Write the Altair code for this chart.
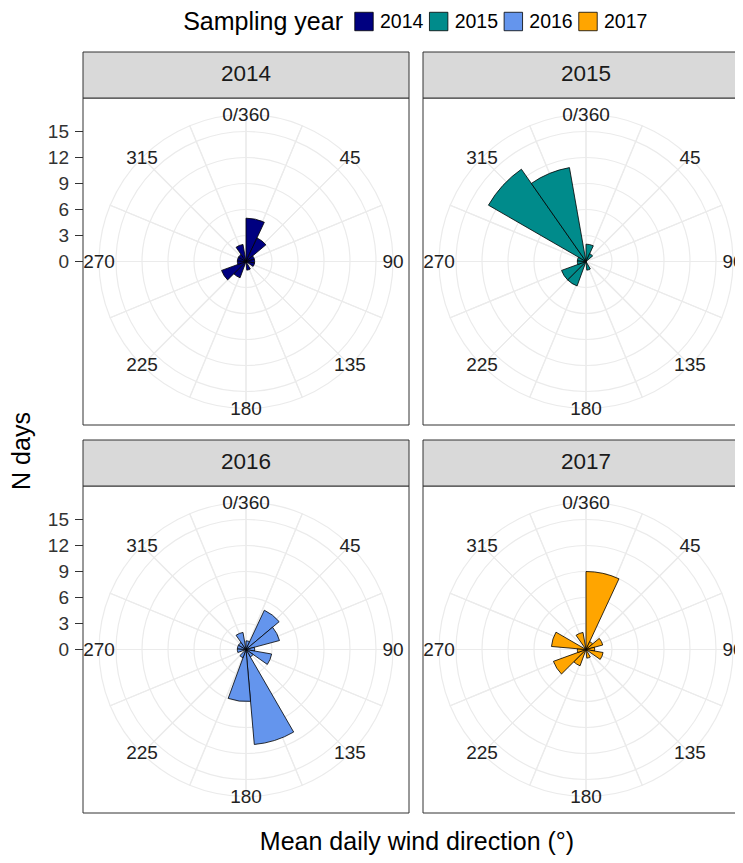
import math
import altair as alt
import pandas as pd

# ---------------- data ----------------
years = [2014, 2015, 2016, 2017]
year_colors = ["#000080", "#008B8B", "#6495ED", "#FFA500"]
panel_col = [0, 1, 0, 1]
panel_row = [0, 0, 1, 1]

bin_starts = [0, 25, 50, 75, 100, 125, 150, 175, 200, 225, 250, 275, 300, 325]
bin_width = 25
counts_2014 = [5, 3, 1, 1, 1, 0, 1, 0, 2, 3, 1, 1, 1, 2]
counts_2015 = [2, 1, 0, 0, 0, 0, 1, 0, 3, 3, 1, 1, 13, 11]
counts_2016 = [1, 5, 4, 1, 3, 1, 11, 6, 1, 0, 1, 1, 1, 2]
counts_2017 = [9, 1, 2, 1, 2, 0, 1, 0, 2, 4, 1, 4, 0, 2]
counts = {2014: counts_2014, 2015: counts_2015, 2016: counts_2016, 2017: counts_2017}

angle_breaks = [0, 45, 90, 135, 180, 225, 270, 315]
angle_labels = ["0/360", "45", "90", "135", "180", "225", "270", "315"]
grid_angles = [i * 22.5 for i in range(16)]
r_breaks = [0, 3, 6, 9, 12, 15]

x_title = "Mean daily wind direction (°)"
y_title = "N days"
legend_title = "Sampling year"

FONT = "Liberation Sans"

# ---------------- tables ----------------
panels = pd.DataFrame({"year": years, "col": panel_col, "row": panel_row})

bars = pd.DataFrame(
    [
        {"year": y, "col": c, "row": r, "start": s, "end": s + bin_width, "n": n}
        for y, c, r in zip(years, panel_col, panel_row)
        for s, n in zip(bin_starts, counts[y])
        if n > 0
    ]
)
sectors = pd.DataFrame(
    [
        {"col": c, "row": r, "a0": a, "a1": a + 22.5}
        for c, r in zip(panel_col, panel_row)
        for a in grid_angles
    ]
)
circles = pd.DataFrame(
    [{"col": c, "row": r, "r": v} for c, r in zip(panel_col, panel_row) for v in r_breaks[1:]]
)
labels = pd.DataFrame(
    [
        {"col": c, "row": r, "angle": a, "label": l}
        for c, r in zip(panel_col, panel_row)
        for a, l in zip(angle_breaks, angle_labels)
    ]
)
ticks = pd.DataFrame({"n": r_breaks})

# ---------------- scales ----------------
THETA = alt.Scale(domain=[0, 360], range=[0, 2 * math.pi])
RAD = alt.Scale(type="linear", domain=[0, 15], range=[0, 130], zero=True, nice=False)
XC = alt.Scale(domain=[0, 1], range=[238, 578], nice=False, zero=False)
YC = alt.Scale(domain=[0, 1], range=[253.5, 641.5], nice=False, zero=False)
COLOR = alt.Scale(domain=years, range=year_colors)

cx = alt.X("col:Q", scale=XC, axis=None)
cy = alt.Y("row:Q", scale=YC, axis=None)

# panel frames and strip headers (band scales)
XB = alt.Scale(type="band", domain=[0, 1], range=[75, 741], paddingInner=14 / 340, paddingOuter=0)
YB_head = alt.Scale(type="band", domain=[0, 1], range=[44, 478], paddingInner=(388 - 46) / 388, paddingOuter=0)
YB_panel = alt.Scale(type="band", domain=[0, 1], range=[90, 805], paddingInner=(388 - 327) / 388, paddingOuter=0)

panel_bg = alt.Chart(panels).mark_rect(fill="white", stroke="#333333", strokeWidth=1).encode(
    x=alt.X("col:O", scale=XB, axis=None), y=alt.Y("row:O", scale=YB_panel, axis=None)
)
strip = alt.Chart(panels).mark_rect(fill="#D9D9D9", stroke="#333333", strokeWidth=1).encode(
    x=alt.X("col:O", scale=XB, axis=None), y=alt.Y("row:O", scale=YB_head, axis=None)
)
strip_text = alt.Chart(panels).mark_text(font=FONT, fontSize=22.5, color="#1A1A1A").encode(
    x=cx,
    y=alt.Y("row:Q", scale=alt.Scale(domain=[0, 1], range=[66, 454], nice=False, zero=False), axis=None),
    text="year:N",
)

grid_sectors = alt.Chart(sectors).mark_arc(
    radius=147, fillOpacity=0, stroke="#EBEBEB", strokeWidth=1.2
).encode(
    x=cx, y=cy,
    theta=alt.Theta("a0:Q", scale=THETA, stack=False),
    theta2="a1:Q",
)
grid_circles = alt.Chart(circles).mark_arc(
    theta=0, theta2=2 * math.pi, fillOpacity=0, stroke="#EBEBEB", strokeWidth=1.2
).encode(
    x=cx, y=cy,
    radius=alt.Radius("r:Q", scale=RAD, stack=False),
)
bar_layer = alt.Chart(bars).mark_arc(stroke="black", strokeWidth=0.8).encode(
    x=cx, y=cy,
    theta=alt.Theta("start:Q", scale=THETA, stack=False),
    theta2="end:Q",
    radius=alt.Radius("n:Q", scale=RAD, stack=False),
    color=alt.Color("year:N", scale=COLOR, legend=None),
)
angle_text = alt.Chart(labels).mark_text(font=FONT, fontSize=19, color="#222222").encode(
    x=cx, y=cy,
    theta=alt.Theta("angle:Q", scale=THETA, stack=False),
    radius=alt.value(147),
    text="label:N",
)

# radial axis (left column only)
axis_layers = []
for yc in [253.5, 641.5]:
    ys = alt.Scale(domain=[0, 15], range=[yc, yc - 130], nice=False, zero=False)
    axis_layers.append(
        alt.Chart(ticks).mark_rule(color="#333333", strokeWidth=1).encode(
            x=alt.value(67), x2=alt.value(75), y=alt.Y("n:Q", scale=ys, axis=None)
        )
    )
    axis_layers.append(
        alt.Chart(ticks).mark_text(font=FONT, fontSize=19, color="#333333", align="right", baseline="middle").encode(
            x=alt.value(61), y=alt.Y("n:Q", scale=ys, axis=None), text="n:Q"
        )
    )

# titles
xt = alt.Chart(pd.DataFrame({"t": [x_title]})).mark_text(
    font=FONT, fontSize=25, color="black", baseline="alphabetic"
).encode(x=alt.value(409), y=alt.value(841.5), text="t:N")
yt = alt.Chart(pd.DataFrame({"t": [y_title]})).mark_text(font=FONT, fontSize=25, color="black", angle=270).encode(
    x=alt.value(14), y=alt.value(443), text="t:N"
)

# legend
LX = alt.Scale(type="point", domain=years, range=[356, 580], padding=0)
leg_title = alt.Chart(pd.DataFrame({"t": [legend_title]})).mark_text(
    font=FONT, fontSize=25, color="black", align="right"
).encode(x=alt.value(335), y=alt.value(13.5), text="t:N")
leg_sw = alt.Chart(panels).mark_square(size=340, opacity=1, stroke="black", strokeWidth=0.8).encode(
    x=alt.X("year:O", scale=LX, axis=None), y=alt.value(13.5),
    color=alt.Color("year:N", scale=COLOR, legend=None),
)
leg_lab = alt.Chart(panels).mark_text(font=FONT, fontSize=19.5, color="black", align="left", dx=16).encode(
    x=alt.X("year:O", scale=LX, axis=None), y=alt.value(13.5), text="year:N"
)

chart = alt.layer(
    panel_bg, strip, strip_text, grid_sectors, grid_circles, bar_layer, angle_text,
    *axis_layers, xt, yt, leg_title, leg_sw, leg_lab
).resolve_scale(x="independent", y="independent").properties(
    width=727, height=847, padding=0, autosize=alt.AutoSizeParams(type="none")
).configure_view(strokeWidth=0)

chart.save("out.html", embed_options={"renderer": "svg", "actions": False})
